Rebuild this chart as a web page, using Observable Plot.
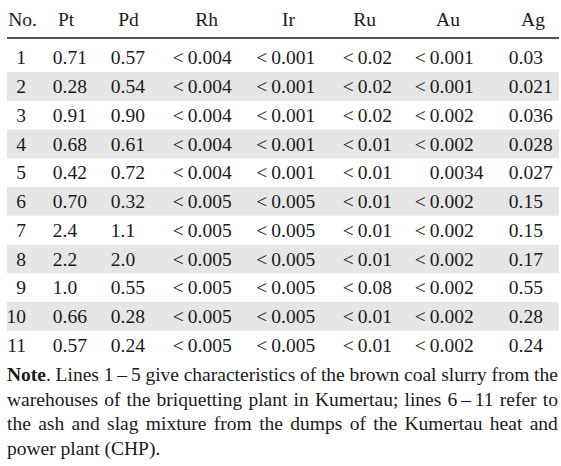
<!DOCTYPE html>
<html><head><meta charset="utf-8">
<script src="https://cdn.jsdelivr.net/npm/d3@7"></script>
<script src="https://cdn.jsdelivr.net/npm/@observablehq/plot@0.6"></script>
<style>
body{margin:0;background:#fff;}
#chart svg{display:block;}
#note{font-family:"Liberation Serif",serif;font-size:19.5px;line-height:24.5px;color:#1a1a1a;margin:1px 0 0 7px;width:551px;}
.ln{display:flex;justify-content:space-between;white-space:nowrap;}
</style>
</head><body>
<div id="chart"></div>
<div id="note"></div>
<script>
const headers = ["No.","Pt","Pd","Rh","Ir","Ru","Au","Ag"];
const rowNo = [1,2,3,4,5,6,7,8,9,10,11];
const pt = ["0.71","0.28","0.91","0.68","0.42","0.70","2.4","2.2","1.0","0.66","0.57"];
const pd = ["0.57","0.54","0.90","0.61","0.72","0.32","1.1","2.0","0.55","0.28","0.24"];
const rh = ["<0.004","<0.004","<0.004","<0.004","<0.004","<0.005","<0.005","<0.005","<0.005","<0.005","<0.005"];
const ir = ["<0.001","<0.001","<0.001","<0.001","<0.001","<0.005","<0.005","<0.005","<0.005","<0.005","<0.005"];
const ru = ["<0.02","<0.02","<0.02","<0.01","<0.01","<0.01","<0.01","<0.01","<0.08","<0.01","<0.01"];
const au = ["<0.001","<0.001","<0.002","<0.002","0.0034","<0.002","<0.002","<0.002","<0.002","<0.002","<0.002"];
const ag = ["0.03","0.021","0.036","0.028","0.027","0.15","0.15","0.17","0.55","0.28","0.24"];
const noteLines = [
  ["<b>Note</b>.","Lines","1\u2009–\u20095","give","characteristics","of","the","brown","coal","slurry","from","the"],
  ["warehouses","of","the","briquetting","plant","in","Kumertau;","lines","6\u2009–\u200911","refer","to"],
  ["the","ash","and","slag","mixture","from","the","dumps","of","the","Kumertau","heat","and"]
];
const noteLast = "power plant (CHP).";

// layout (column anchor positions, px)
const decimalX = [25.5, 62, 120, 197, 280.5, 367, 439, 518];
const headerX = [22, 65.5, 128, 206, 288, 364, 447.5, 532.5];
const fs = 19.5;

const columns = [rowNo.map(String), pt, pd, rh, ir, ru, au, ag];
const cells = [];
columns.forEach((col, c) => col.forEach((v, i) => {
  const s = v.replace("<", "<\u2009");
  const k = s.indexOf(".");
  cells.push({row: rowNo[i], x: decimalX[c], left: k < 0 ? s : s.slice(0, k), right: k < 0 ? "" : s.slice(k)});
}));
const stripes = rowNo.filter(r => r % 2 === 0);
const headerRows = headers.map((h, i) => ({h, x: headerX[i]}));

const plot = Plot.plot({
  width: 561, height: 362, margin: 0,
  x: {type: "identity", axis: null},
  y: {domain: [0, 12], range: [28.85, 373.85], axis: null},
  style: {fontFamily: "Liberation Serif", fontSize: fs + "px", color: "#1a1a1a", background: "#fff"},
  marks: [
    Plot.rect(stripes, {x1: 7, x2: 559, y1: r => r - 0.5, y2: r => r + 0.5, fill: "#e6e6e6"}),
    Plot.ruleY([0.3], {x1: 7, x2: 559, stroke: "#1a1a1a", strokeWidth: 1.3}),
    Plot.text(headerRows, {x: "x", y: 0, dy: -10, text: "h", fontSize: fs}),
    Plot.text(cells, {x: "x", y: "row", text: "left", textAnchor: "end", fontSize: fs}),
    Plot.text(cells, {x: "x", y: "row", text: "right", textAnchor: "start", fontSize: fs})
  ]
});
document.getElementById("chart").append(plot);

const note = document.getElementById("note");
noteLines.forEach(words => {
  const d = document.createElement("div");
  d.className = "ln";
  d.innerHTML = words.map(w => `<span>${w}</span>`).join("");
  note.append(d);
});
const last = document.createElement("div");
last.textContent = noteLast;
note.append(last);
</script>
</body></html>
